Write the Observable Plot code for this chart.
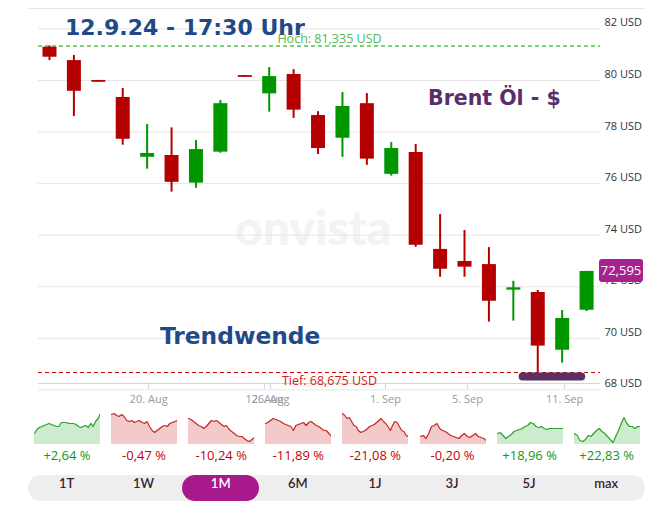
<!DOCTYPE html>
<html><head><meta charset="utf-8">
<script src="https://cdn.jsdelivr.net/npm/d3@7"></script>
<script src="https://cdn.jsdelivr.net/npm/@observablehq/plot@0.6"></script>
<style>
body{margin:0;background:#fff;}
#wrap{position:relative;width:668px;height:516px;overflow:hidden;font-family:"Open Sans",sans-serif;}
#back,#front{position:absolute;left:0;top:0;}
#chart{position:absolute;left:0;top:0;}
#topline{position:absolute;left:28px;top:8px;width:617px;height:1px;background:#e6e6e6;}
#price{position:absolute;left:599px;width:44px;height:23px;background:#a8228f;color:#fff;border-radius:3px;font:13px "Open Sans",sans-serif;line-height:23px;text-align:center;}
#sparks{position:absolute;left:34px;top:408px;}
.cell{position:absolute;top:0;width:66px;}
.cell .lbl{font:13px "Open Sans",sans-serif;text-align:center;line-height:18px;margin-top:2px;white-space:nowrap;margin-left:-10px;margin-right:-10px;}
#buttons{position:absolute;left:28px;top:475px;width:617px;height:26px;border-radius:13px;background:#eeeeee;display:flex;}
#buttons div{width:77.1px;height:26px;line-height:26px;text-align:center;font:600 13px Lato,sans-serif;color:#3b1f33;border-radius:13px;}
#buttons div.sel{background:#a8198b;color:#fff;}
</style></head><body>
<div id="wrap">
  <svg id="back" width="668" height="516"><text x="235" y="245" font-family="Lato" font-weight="900" font-size="48" fill="#f3f3f3">onvista</text></svg>
  <div id="topline"></div>
  <div id="chart"></div>
  <svg id="front" width="668" height="400" style="pointer-events:none">
    <text x="65" y="34.5" font-family="DejaVu Sans" font-weight="bold" font-size="22" fill="#1f4a87">12.9.24 - 17:30 Uhr</text>
    <text x="428" y="105" font-family="DejaVu Sans" font-weight="bold" font-size="20.5" fill="#5b2e6a">Brent Öl - $</text>
    <text x="160" y="344" font-family="DejaVu Sans" font-weight="bold" font-size="23.3" fill="#1f4a87">Trendwende</text>
  </svg>
  <div id="price"></div>
  <div id="sparks"></div>
  <div id="buttons"></div>
</div>
<script>
// ---- Candle data (USD) ----
const openV  = [81.29, 80.77, 80.00, 79.34, 77.02, 77.09, 76.02, 77.22, 80.19, 79.48, 80.23, 78.64, 77.76, 79.10, 76.36, 77.21, 73.45, 72.98, 72.86, 71.87, 71.78, 69.54, 71.09];
const highV  = [81.335, 80.97, 80.00, 79.69, 78.29, 78.16, 77.67, 79.22, 80.19, 80.50, 80.42, 78.79, 79.53, 79.49, 77.59, 77.52, 74.80, 74.18, 73.52, 72.21, 71.86, 71.08, 72.60];
const lowV   = [80.77, 78.60, 79.93, 77.49, 76.56, 75.67, 75.82, 77.18, 80.12, 78.77, 78.53, 77.13, 77.02, 76.71, 76.29, 73.53, 72.37, 72.37, 70.63, 70.67, 68.675, 69.04, 71.04];
const closeV = [80.90, 79.58, 79.93, 77.72, 77.17, 76.05, 77.32, 79.10, 80.12, 80.15, 78.85, 77.36, 78.99, 76.95, 77.36, 73.61, 72.68, 72.76, 71.44, 71.96, 69.70, 70.77, 72.595];

const hoch = 81.335;
const tief = 68.675;

// axis ticks
const yTicks = [68, 70, 72, 74, 76, 78, 80, 82];
const xTickPos = [4.06, 8.81, 9.05, 13.76, 17.12, 21.1];
const xTickLabels = ["20. Aug", "12. Aug", "26. Aug", "1. Sep", "5. Sep", "11. Sep"];
const xDomain = [-0.45, 22.57];
const yDomain = [68.25, 82.79];

// highlight marker near the low
const marker = [{x1: 19.4, x2: 21.8, y: 68.52}];

// ---- Sparklines ----
const sparkLabels = ["+2,64 %", "-0,47 %", "-10,24 %", "-11,89 %", "-21,08 %", "-0,20 %", "+18,96 %", "+22,83 %"];
const spark1 = [11,15,17,18,19,20,21,20,19,18,18,22,22,22,21,21,21,20,18,17,18,19,17,21,18,23,26,31];
const spark2 = [30,31,29,28,30,28,24,23,24,22,23,24,22,21,23,18,14,12,14,16,18,19,18,21,22,23,24];
const spark3 = [26,25,23,21,19,18,16,18,21,24,23,24,22,20,18,19,15,13,11,9,8,8,6,4,3,5,7];
const spark4 = [21,22,24,26,25,24,23,21,20,19,18,14,19,20,21,22,19,22,23,21,19,18,16,14,14,11,8];
const spark5 = [31,29,26,27,23,19,18,14,12,13,14,16,18,19,20,22,24,26,23,21,18,14,19,23,22,18,14,13,9,8];
const spark6 = [8,9,6,11,18,19,21,16,14,13,11,9,8,7,6,9,11,8,7,9,11,8,7,6,4];
const spark7 = [11,12,9,6,8,10,13,14,15,16,18,19,22,21,18,17,18,16,15,16,16,16,16,16,16];
const spark8 = [11,9,4,3,5,9,8,11,14,16,13,11,8,5,2,8,14,21,27,21,18,18,16,18,18];
const sparks = [spark1, spark2, spark3, spark4, spark5, spark6, spark7, spark8];

const buttons = ["1T", "1W", "1M", "6M", "1J", "3J", "5J", "max"];
const selected = "1M";

// ---- Build ----
const UP = "#009600", DOWN = "#b40000";
const candles = openV.map((o, i) => ({i, o, h: highV[i], l: lowV[i], c: closeV[i]}));
const ups = candles.filter(d => d.c >= d.o);
const downs = candles.filter(d => d.c < d.o);
const fmt = v => v.toFixed(3).replace(".", ",");
const labelMap = new Map(xTickPos.map((p, i) => [p, xTickLabels[i]]));

const chart = Plot.plot({
  width: 668, height: 410,
  marginLeft: 38, marginRight: 68, marginTop: 8, marginBottom: 27,
  style: {background: "transparent", fontFamily: "Open Sans, sans-serif", fontSize: "11px", overflow: "visible"},
  x: {type: "linear", domain: xDomain, axis: null},
  y: {domain: yDomain, axis: null},
  marks: [
    Plot.gridY(yTicks, {stroke: "#e6e6e6", strokeOpacity: 1}),
    Plot.axisY(yTicks, {anchor: "right", tickSize: 0, tickPadding: 4, dy: -6, tickFormat: d => d + " USD", fill: "#333", fontSize: 11}),
    Plot.ruleY([yDomain[0]], {stroke: "#ccd6eb"}),
    Plot.axisX(xTickPos, {tickSize: 6, tickPadding: 6, stroke: "#ccd6eb", fill: "#999", fontSize: 11, tickFormat: d => labelMap.get(d)}),
    Plot.ruleY([hoch], {stroke: "#00a000", strokeDasharray: "4,3"}),
    Plot.text([hoch], {y: d => d, text: d => "Hoch: " + fmt(d) + " USD", frameAnchor: "middle", dx: 10, dy: -7.5, fill: "#55b855", fontSize: 12.5}),
    Plot.ruleY([tief], {stroke: "#cc0000", strokeDasharray: "4,3"}),
    Plot.text([tief], {y: d => d, text: d => "Tief: " + fmt(d) + " USD", frameAnchor: "middle", dx: 10, dy: 8, fill: "#d02020", fontSize: 12.5}),
    Plot.ruleX(ups, {x: "i", y1: "l", y2: "h", stroke: UP, strokeWidth: 2}),
    Plot.ruleX(downs, {x: "i", y1: "l", y2: "h", stroke: DOWN, strokeWidth: 2}),
    Plot.ruleX(ups, {x: "i", y1: "o", y2: "c", stroke: UP, strokeWidth: 14}),
    Plot.ruleX(downs, {x: "i", y1: "o", y2: "c", stroke: DOWN, strokeWidth: 14}),
    Plot.ruleY(marker, {x1: "x1", x2: "x2", y: "y", stroke: "#5c2f63", strokeWidth: 8, strokeLinecap: "round"})
  ]
});
document.getElementById("chart").appendChild(chart);

// price label tied to the y scale
const last = closeV[closeV.length - 1];
const py = chart.scale("y").apply(last);
const priceEl = document.getElementById("price");
priceEl.textContent = fmt(last);
priceEl.style.top = (py - 11.5) + "px";

// sparklines
const sparkWrap = document.getElementById("sparks");
sparks.forEach((vals, k) => {
  const up = sparkLabels[k].startsWith("+");
  const cell = document.createElement("div");
  cell.className = "cell";
  cell.style.left = (k * 77.1) + "px";
  const data = vals.map((v, i) => ({i, v}));
  const p = Plot.plot({
    width: 66, height: 36, margin: 0,
    style: {background: "transparent"},
    x: {axis: null, domain: [0, vals.length - 1]},
    y: {axis: null, domain: [0, 36]},
    marks: [
      Plot.areaY(data, {x: "i", y: "v", fill: up ? "#cdebcd" : "#f2caca"}),
      Plot.lineY(data, {x: "i", y: "v", stroke: up ? "#2ea32e" : "#c82828", strokeWidth: 1.2})
    ]
  });
  cell.appendChild(p);
  const lbl = document.createElement("div");
  lbl.className = "lbl";
  lbl.style.color = up ? "#149614" : "#c80000";
  lbl.textContent = sparkLabels[k];
  cell.appendChild(lbl);
  sparkWrap.appendChild(cell);
});

// buttons
const bw = document.getElementById("buttons");
buttons.forEach(b => {
  const d = document.createElement("div");
  d.textContent = b;
  if (b === selected) d.className = "sel";
  bw.appendChild(d);
});
</script>
</body></html>
